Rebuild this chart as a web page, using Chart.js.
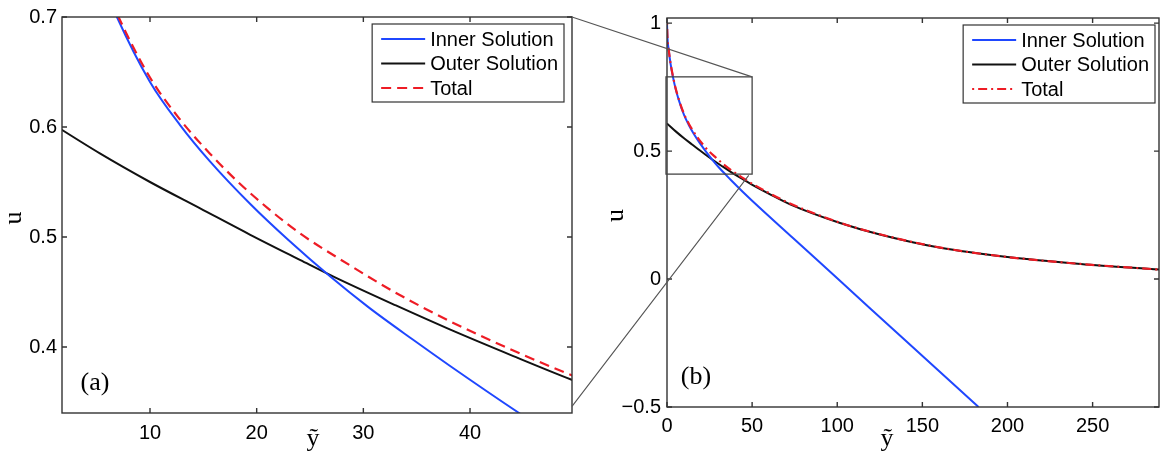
<!DOCTYPE html>
<html>
<head>
<meta charset="utf-8">
<script src="https://cdn.jsdelivr.net/npm/chart.js@4.4.0/dist/chart.umd.min.js"></script>
<style>
html, body { margin: 0; padding: 0; background: #fff; }
#wrap { position: relative; width: 1162px; height: 457px; }
#cA { position: absolute; left: 0; top: 0; }
#cB { position: absolute; left: 590px; top: 0; }
#over { position: absolute; left: 0; top: 0; pointer-events: none; }
</style>
</head>
<body>
<div id="wrap">
  <canvas id="cA" width="590" height="457" style="width:590px;height:457px"></canvas>
  <canvas id="cB" width="572" height="457" style="width:572px;height:457px"></canvas>
  <canvas id="over" width="1162" height="457" style="width:1162px;height:457px"></canvas>
</div>
<script>
// values (y~ on x, u on y)
const innerX = [0, 0.3, 1, 2, 3.5, 5, 6.9, 10, 12.8, 15.6, 19.4, 23, 26.9, 30.5, 34.6, 38.1, 44.6, 50, 74, 100, 137, 183];
const innerU = [1.0, 0.94, 0.895, 0.845, 0.79, 0.745, 0.70, 0.641, 0.602, 0.569, 0.530, 0.497, 0.464, 0.436, 0.407, 0.383, 0.340, 0.306, 0.160, 0.003, -0.222, -0.5];

const outerX = [0, 5.3, 10, 14.7, 19.4, 24.1, 27.2, 33, 38.1, 44, 49.6, 60, 72.3, 101.7, 125, 160.6, 200, 243, 289];
const outerU = [0.608, 0.576, 0.550, 0.526, 0.502, 0.479, 0.464, 0.438, 0.416, 0.392, 0.370, 0.333, 0.292, 0.219, 0.174, 0.122, 0.086, 0.059, 0.037];

const totalX = [0, 0.3, 1, 2, 3.5, 5, 7, 10, 12.8, 15.6, 18.2, 21, 24.1, 28.7, 33, 38.1, 44, 49.6, 60, 72.3, 101.7, 125, 160.6, 200, 243, 289];
const totalU = [1.0, 0.94, 0.896, 0.847, 0.792, 0.747, 0.701, 0.645, 0.607, 0.576, 0.5505, 0.5265, 0.503, 0.4745, 0.4495, 0.4235, 0.397, 0.374, 0.336, 0.295, 0.220, 0.175, 0.123, 0.086, 0.059, 0.037];

const seriesNames = ['Inner Solution', 'Outer Solution', 'Total'];

// tick labels
const aXTicks = [10, 20, 30, 40];
const aYTicks = [0.4, 0.5, 0.6, 0.7];
const bXTicks = [0, 50, 100, 150, 200, 250];
const bYTicks = [-0.5, 0, 0.5, 1];

// axis limits
const aXRange = [1.75, 49.56];
const aYRange = [0.34, 0.70];
const bXRange = [0, 289];
const bYRange = [-0.5, 1.02];

// zoom rectangle drawn in (b) and where the connector lines end
const zoomBoxX = [0, 50];
const zoomBoxU = [0.41, 0.79];
const connLowA = 0.346;
const connLowB = [48, 0.405];

const BLUE = '#1f47ff', BLACK = '#111111', RED = '#ee1c25', AXIS = '#333333';
const FONT = '"Liberation Sans", Arial, sans-serif';
const SERIF = '"Liberation Serif", "Times New Roman", serif';

function pts(xs, ys) { return xs.map((x, i) => ({ x: x, y: ys[i] })); }
function fmt(v) { return v < 0 ? '\u2212' + Math.abs(v) : String(v); }

function makeDatasets(totalDash) {
    return [
        { label: seriesNames[0], data: pts(innerX, innerU), borderColor: BLUE, borderWidth: 2, order: 1 },
        { label: seriesNames[1], data: pts(outerX, outerU), borderColor: BLACK, borderWidth: 2, order: 2 },
        { label: seriesNames[2], data: pts(totalX, totalU), borderColor: RED, borderWidth: 2.2, borderDash: totalDash, order: 0 },
    ].map(d => Object.assign(d, { pointRadius: 0, fill: false, cubicInterpolationMode: 'monotone', backgroundColor: d.borderColor }));
}

// matlab style box with inward ticks on all four sides
const matlabBox = {
    id: 'matlabBox',
    afterDatasetsDraw(chart) {
        const { ctx, chartArea: a, scales } = chart;
        ctx.save();
        ctx.strokeStyle = AXIS;
        ctx.lineWidth = 1.4;
        ctx.strokeRect(a.left, a.top, a.right - a.left, a.bottom - a.top);
        ctx.beginPath();
        scales.x.ticks.forEach(t => {
            const px = scales.x.getPixelForValue(t.value);
            ctx.moveTo(px, a.bottom); ctx.lineTo(px, a.bottom - 5);
            ctx.moveTo(px, a.top); ctx.lineTo(px, a.top + 5);
        });
        scales.y.ticks.forEach(t => {
            const py = scales.y.getPixelForValue(t.value);
            ctx.moveTo(a.left, py); ctx.lineTo(a.left + 5, py);
            ctx.moveTo(a.right, py); ctx.lineTo(a.right - 5, py);
        });
        ctx.stroke();
        ctx.restore();
    }
};

// zoom box, legend, panel tag and axis titles
const extras = {
    id: 'extras',
    afterDraw(chart, args, o) {
        const { ctx, chartArea: a, scales } = chart;
        ctx.save();
        if (o.zoomBox) {
            const x0 = scales.x.getPixelForValue(zoomBoxX[0]) - 1, x1 = scales.x.getPixelForValue(zoomBoxX[1]);
            const y0 = scales.y.getPixelForValue(zoomBoxU[1]), y1 = scales.y.getPixelForValue(zoomBoxU[0]);
            ctx.strokeStyle = '#444';
            ctx.lineWidth = 1.3;
            ctx.strokeRect(x0, y0, x1 - x0, y1 - y0);
        }
        // legend
        ctx.font = '20px ' + FONT;
        const tw = Math.max(...chart.data.datasets.map(d => ctx.measureText(d.label).width));
        const w = 58 + tw + 6, h = 78;
        const right = a.right - o.legendRight, top = a.top + 7, left = right - w;
        ctx.fillStyle = '#fff';
        ctx.fillRect(left, top, w, h);
        ctx.strokeStyle = AXIS;
        ctx.lineWidth = 1.2;
        ctx.strokeRect(left, top, w, h);
        chart.data.datasets.forEach((d, i) => {
            const cy = top + 15 + i * 24.5;
            ctx.beginPath();
            ctx.setLineDash(d.borderDash || []);
            ctx.strokeStyle = d.borderColor;
            ctx.lineWidth = d.borderWidth;
            ctx.moveTo(left + 9, cy); ctx.lineTo(left + 53, cy);
            ctx.stroke();
            ctx.setLineDash([]);
            ctx.fillStyle = '#000';
            ctx.textAlign = 'left';
            ctx.textBaseline = 'middle';
            ctx.fillText(d.label, left + 58, cy + 1);
        });
        // panel tag
        ctx.font = '26px ' + SERIF;
        ctx.fillStyle = '#000';
        ctx.textAlign = 'center';
        ctx.textBaseline = 'middle';
        ctx.fillText(o.tag, a.left + o.tagDx, a.bottom - o.tagDy);
        // x title
        ctx.textBaseline = 'alphabetic';
        ctx.fillText('\u1EF9', (a.left + a.right) / 2 + o.xTitleDx, a.bottom + o.xTitleDy + 6);
        // y title, rotated
        ctx.translate(a.left - o.yTitleDx + 6, (a.top + a.bottom) / 2 + 3);
        ctx.rotate(-Math.PI / 2);
        ctx.fillText('u', 0, 0);
        ctx.restore();
    }
};

function makeConfig(p) {
    return {
        type: 'line',
        data: { datasets: makeDatasets(p.totalDash) },
        options: {
            responsive: false,
            animation: false,
            devicePixelRatio: 1,
            events: [],
            layout: { padding: p.padding },
            plugins: {
                legend: { display: false },
                tooltip: { enabled: false },
                extras: p.extras,
            },
            scales: {
                x: {
                    type: 'linear', min: p.xRange[0], max: p.xRange[1],
                    afterBuildTicks: s => { s.ticks = p.xTicks.map(v => ({ value: v })); },
                    afterFit: s => { s.height = p.xAxisH; },
                    grid: { display: false, drawTicks: false },
                    border: { display: false },
                    ticks: { autoSkip: false, maxRotation: 0, padding: p.xPad, color: '#000', font: { family: FONT, size: 20 }, callback: v => fmt(v) },
                },
                y: {
                    type: 'linear', min: p.yRange[0], max: p.yRange[1],
                    afterBuildTicks: s => { s.ticks = p.yTicks.map(v => ({ value: v })); },
                    afterFit: s => { s.width = p.yAxisW; },
                    grid: { display: false, drawTicks: false },
                    border: { display: false },
                    ticks: { autoSkip: false, padding: p.yPad, color: '#000', font: { family: FONT, size: 20 }, callback: v => fmt(v) },
                },
            },
        },
        plugins: [matlabBox, extras],
    };
}

const chartA = new Chart(document.getElementById('cA').getContext('2d'), makeConfig({
    totalDash: [10, 6],
    padding: { left: 0, right: 18, top: 13, bottom: 0 },
    xRange: aXRange, yRange: aYRange, xTicks: aXTicks, yTicks: aYTicks,
    xAxisH: 44, yAxisW: 62, xPad: 8, yPad: 5,
    extras: { zoomBox: false, legendRight: 8, tag: '(a)', tagDx: 33, tagDy: 30, xTitleDx: -4, xTitleDy: 27, yTitleDx: 47 },
}));

const chartB = new Chart(document.getElementById('cB').getContext('2d'), makeConfig({
    totalDash: [2, 4, 9, 4],
    padding: { left: 0, right: 3, top: 18, bottom: 0 },
    xRange: bXRange, yRange: bYRange, xTicks: bXTicks, yTicks: bYTicks,
    xAxisH: 50, yAxisW: 77, xPad: 7, yPad: 6,
    extras: { zoomBox: true, legendRight: 4, tag: '(b)', tagDx: 29, tagDy: 30, xTitleDx: -26, xTitleDy: 33, yTitleDx: 50 },
}));

// connector lines from panel (a) to the zoom box in panel (b)
const offB = 590;
const oc = document.getElementById('over').getContext('2d');
const ca = chartA.chartArea;
const bx = chartB.scales.x, by = chartB.scales.y;
oc.strokeStyle = '#555';
oc.lineWidth = 1.1;
oc.beginPath();
oc.moveTo(ca.right, ca.top);
oc.lineTo(offB + bx.getPixelForValue(zoomBoxX[1]), by.getPixelForValue(zoomBoxU[1]));
oc.moveTo(ca.right, chartA.scales.y.getPixelForValue(connLowA));
oc.lineTo(offB + bx.getPixelForValue(connLowB[0]), by.getPixelForValue(connLowB[1]));
oc.stroke();
</script>
</body>
</html>
